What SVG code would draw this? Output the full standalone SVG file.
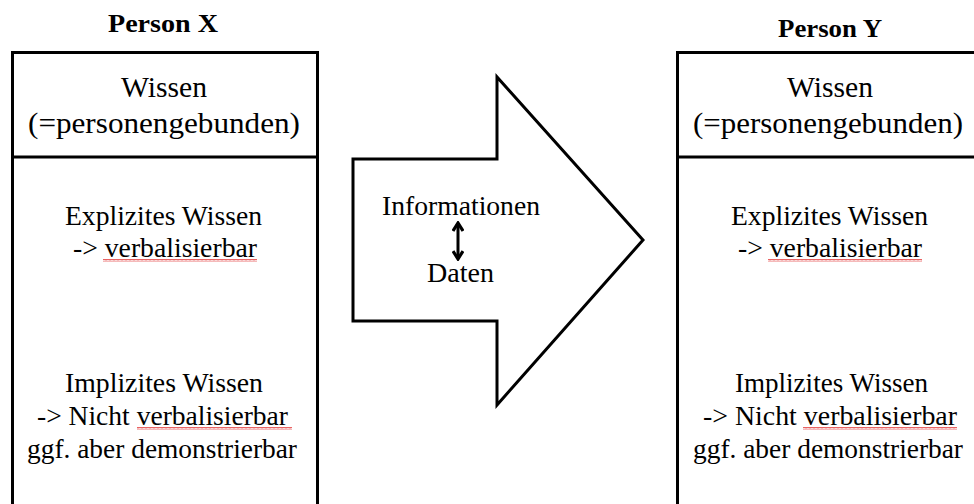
<svg xmlns="http://www.w3.org/2000/svg" width="974" height="504" viewBox="0 0 974 504">
<style>
  .box { fill: #fff; stroke: #000; stroke-width: 3; }
  .t { fill: #000; text-anchor: middle; font-family: Liberation Serif, Times New Roman, DejaVu Serif, serif; }
  .h { font-size: 30px; }
  .b { font-size: 27px; }
  .title { font-size: 26px; font-weight: bold; }
  .squig { fill: url(#wave); }
  .conn { stroke: #000; stroke-width: 3; fill: none; }
</style>
<defs>
  <pattern id="wave" patternUnits="userSpaceOnUse" width="4" height="3">
    <path d="M0 2.5 L1 0.5 L2 2.5 L3 0.5 L4 2.5" stroke="#e23b3b" stroke-width="0.8" fill="none"/>
  </pattern>
  <marker id="ah" viewBox="0 0 12 12" refX="10" refY="6" markerWidth="12" markerHeight="12" markerUnits="userSpaceOnUse" orient="auto-start-reverse">
    <path d="M2 1 L10 6 L2 11" fill="none" stroke="#000" stroke-width="3.2"/>
  </marker>
</defs>
<rect width="974" height="504" fill="#fff"/>

<g id="personX">
  <text class="t title" x="163" y="32" textLength="110" lengthAdjust="spacingAndGlyphs">Person X</text>
  <rect class="box" x="12.5" y="52.5" width="305" height="470"/>
  <line class="box" x1="12.5" y1="157" x2="317.5" y2="157"/>
  <text class="t h" x="164" y="97" textLength="86" lengthAdjust="spacingAndGlyphs">Wissen</text>
  <text class="t h" x="164" y="133" textLength="272" lengthAdjust="spacingAndGlyphs">(=personengebunden)</text>
  <text class="t b" x="163.5" y="225" textLength="197" lengthAdjust="spacingAndGlyphs">Explizites Wissen</text>
  <text class="t b" x="165" y="257" textLength="184" lengthAdjust="spacingAndGlyphs">-&gt; verbalisierbar</text>
  <rect class="squig" x="103" y="259" width="154" height="3"/>
  <text class="t b" x="164" y="392" textLength="198" lengthAdjust="spacingAndGlyphs">Implizites Wissen</text>
  <text class="t b" x="162.5" y="425" textLength="251" lengthAdjust="spacingAndGlyphs">-&gt; Nicht verbalisierbar</text>
  <rect class="squig" x="137" y="427" width="155" height="3"/>
  <text class="t b" x="162" y="458" textLength="270" lengthAdjust="spacingAndGlyphs">ggf. aber demonstrierbar</text>
</g>

<g id="personY">
  <text class="t title" x="830" y="37" textLength="104" lengthAdjust="spacingAndGlyphs">Person Y</text>
  <rect class="box" x="677.5" y="52.5" width="305" height="470"/>
  <line class="box" x1="677.5" y1="157" x2="982" y2="157"/>
  <text class="t h" x="830" y="97" textLength="86" lengthAdjust="spacingAndGlyphs">Wissen</text>
  <text class="t h" x="828" y="133" textLength="270" lengthAdjust="spacingAndGlyphs">(=personengebunden)</text>
  <text class="t b" x="829.5" y="225" textLength="197" lengthAdjust="spacingAndGlyphs">Explizites Wissen</text>
  <text class="t b" x="830" y="257" textLength="184" lengthAdjust="spacingAndGlyphs">-&gt; verbalisierbar</text>
  <rect class="squig" x="768" y="259" width="154" height="3"/>
  <text class="t b" x="831.5" y="392" textLength="193" lengthAdjust="spacingAndGlyphs">Implizites Wissen</text>
  <text class="t b" x="830" y="425" textLength="254" lengthAdjust="spacingAndGlyphs">-&gt; Nicht verbalisierbar</text>
  <rect class="squig" x="803" y="427" width="154" height="3"/>
  <text class="t b" x="828" y="458" textLength="270" lengthAdjust="spacingAndGlyphs">ggf. aber demonstrierbar</text>
</g>

<g id="transfer">
  <polygon class="box" points="353,159 497,159 497,77 643,240 497,405 497,321 353,321"/>
  <text class="t b" x="461" y="215" textLength="158" lengthAdjust="spacingAndGlyphs">Informationen</text>
  <text class="t b" x="460.5" y="282" textLength="67" lengthAdjust="spacingAndGlyphs">Daten</text>
</g>

<g id="connectors">
  <line class="conn" x1="458" y1="223" x2="458" y2="259" marker-start="url(#ah)" marker-end="url(#ah)"/>
</g>
</svg>
